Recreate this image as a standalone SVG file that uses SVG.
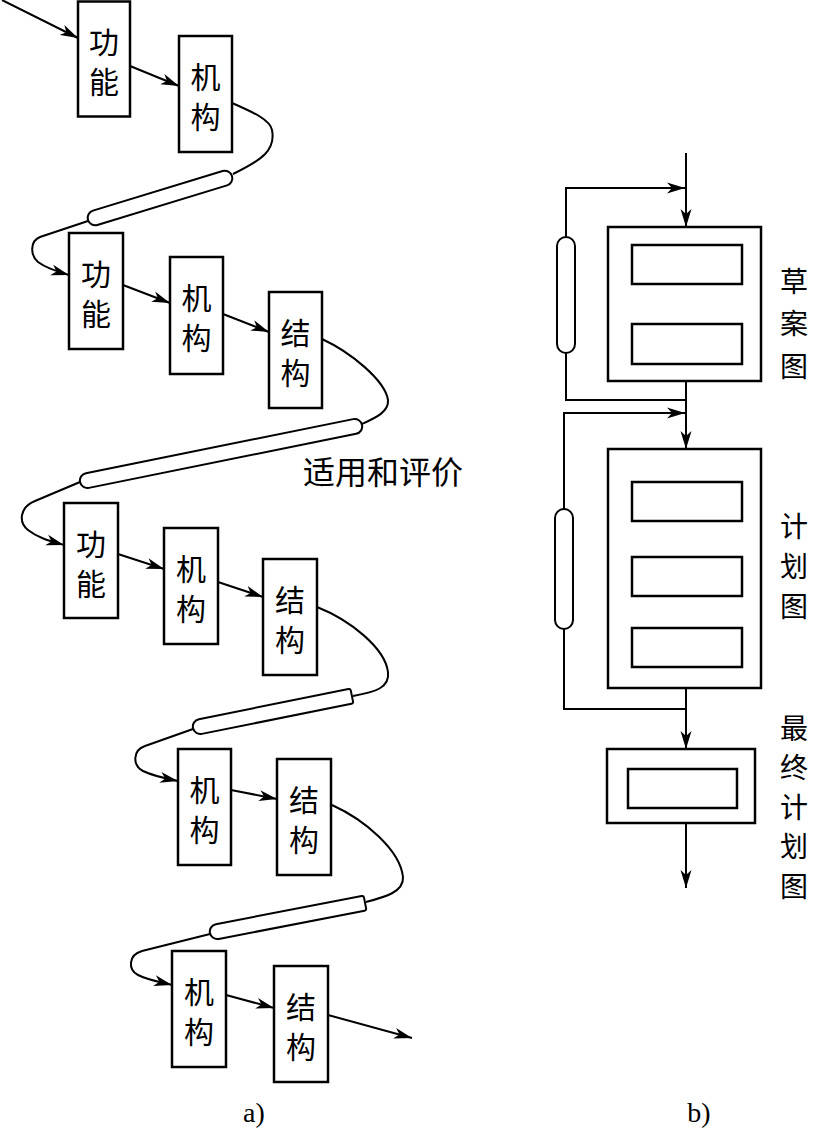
<svg xmlns="http://www.w3.org/2000/svg" width="815" height="1130" viewBox="0 0 815 1130">
<style>
.bx{fill:#fff;stroke:#000;stroke-width:2.5}
.ln{fill:none;stroke:#000;stroke-width:2}
.ar{fill:none;stroke:#000;stroke-width:2;marker-end:url(#ah)}
.tube{fill:#fff;stroke:#000;stroke-width:2}
.t{font-family:"Noto Sans CJK SC","Noto Sans CJK JP",sans-serif;font-size:30px;fill:#000;text-anchor:middle}
.v{font-family:"Noto Sans CJK SC","Noto Sans CJK JP",sans-serif;font-size:30px;fill:#000;writing-mode:vertical-rl;text-orientation:upright;letter-spacing:10px}
.side{font-size:28px}
.lab{font-family:"Liberation Serif",serif;font-size:28px;fill:#000;text-anchor:middle}
</style>
<defs>
<marker id="ah" markerUnits="userSpaceOnUse" markerWidth="20" markerHeight="12" refX="18" refY="6" orient="auto">
<path d="M0,0.5 L18,6 L0,11.5 L5,6 z" fill="#000"/>
</marker>
</defs>
<g id="connectors">
<line class="ar" x1="2" y1="0" x2="78" y2="38"/>
<line class="ar" x1="130" y1="66" x2="179" y2="86"/>
<path class="ln" d="M232,103 C255,113 270,120 272,130 C276,150 262,160 233,174"/>
<path class="ar" d="M88,221 L40,237 C30,241 30,255 38,262 C46,268 55,271 69,275"/>
<line class="ar" x1="123" y1="285" x2="170" y2="303"/>
<line class="ar" x1="223" y1="314" x2="269" y2="332"/>
<path class="ln" d="M322,339 C350,352 385,380 388,400 C389,412 375,418 362,424"/>
<path class="ar" d="M80,482 L35,501 C20,507 18,522 28,530 C38,538 50,541 64,545"/>
<line class="ar" x1="118" y1="554" x2="164" y2="569"/>
<line class="ar" x1="218" y1="582" x2="263" y2="597"/>
<path class="ln" d="M317,607 C350,620 385,648 388,672 C390,688 375,692 353,696"/>
<path class="ar" d="M193,729 L145,746 C133,750 132,765 143,771 C153,776 163,778 178,781"/>
<line class="ar" x1="231" y1="790" x2="277" y2="799"/>
<path class="ln" d="M332,805 C365,820 400,850 403,877 C404,892 385,897 366,902"/>
<path class="ar" d="M210,934 L142,951 C128,955 128,970 138,975 C148,980 160,982 172,985"/>
<line class="ar" x1="226" y1="995" x2="274" y2="1008"/>
<line class="ar" x1="328" y1="1015" x2="412" y2="1038"/>
<line class="ar" x1="686" y1="153" x2="686" y2="227"/>
<polyline class="ar" points="566,238 566,188 685,188"/>
<polyline class="ln" points="566,353 566,400 686,400"/>
<line class="ar" x1="686" y1="284" x2="686" y2="324"/>
<line class="ar" x1="686" y1="381" x2="686" y2="449"/>
<polyline class="ar" points="564,509 564,413 685,413"/>
<polyline class="ln" points="564,629 564,709 686,709"/>
<line class="ar" x1="686" y1="521" x2="686" y2="557"/>
<line class="ar" x1="686" y1="596" x2="686" y2="628"/>
<line class="ar" x1="686" y1="688" x2="686" y2="749"/>
<line class="ar" x1="686" y1="823" x2="686" y2="888"/>
</g>
<g id="tubes">
<rect class="tube" x="-75.3" y="-7.5" width="150.6" height="15" rx="7.5" transform="translate(160,198) rotate(-17)"/>
<rect class="tube" x="-143.8" y="-7.5" width="287.7" height="15" rx="7.5" transform="translate(221,453.5) rotate(-11.43)"/>
<path class="tube" d="M-73.6,-7.5 H79 Q81,-7.5 81,-5.5 V5.5 Q81,7.5 79,7.5 H-73.6 A7.5,7.5 0 0 1 -73.6,-7.5 Z" transform="translate(272.5,712) rotate(-11.38)"/>
<path class="tube" d="M-71.5,-7.5 H77 Q79,-7.5 79,-5.5 V5.5 Q79,7.5 77,7.5 H-71.5 A7.5,7.5 0 0 1 -71.5,-7.5 Z" transform="translate(287.5,918) rotate(-10.95)"/>
<rect class="tube" x="557" y="237" width="18" height="116" rx="9"/>
<rect class="tube" x="555" y="509" width="18" height="120" rx="9"/>
</g>
<g id="n1"><rect class="bx" x="78" y="1.5" width="52" height="115"/><text class="v" x="104" y="27">功能</text></g>
<g id="n2"><rect class="bx" x="179" y="36" width="53" height="116"/><text class="v" x="205.5" y="62">机构</text></g>
<g id="n3"><rect class="bx" x="69" y="233" width="54" height="116"/><text class="v" x="96" y="259">功能</text></g>
<g id="n4"><rect class="bx" x="170" y="257" width="53" height="117"/><text class="v" x="196.5" y="283">机构</text></g>
<g id="n5"><rect class="bx" x="269" y="292" width="53" height="116"/><text class="v" x="295.5" y="318">结构</text></g>
<g id="n6"><rect class="bx" x="64" y="503" width="54" height="115"/><text class="v" x="91" y="529">功能</text></g>
<g id="n7"><rect class="bx" x="164" y="528" width="54" height="116"/><text class="v" x="191" y="554">机构</text></g>
<g id="n8"><rect class="bx" x="263" y="559" width="54" height="116"/><text class="v" x="290" y="585">结构</text></g>
<g id="n9"><rect class="bx" x="178" y="749" width="53" height="116"/><text class="v" x="204.5" y="775">机构</text></g>
<g id="n10"><rect class="bx" x="277" y="759" width="54" height="116"/><text class="v" x="304" y="785">结构</text></g>
<g id="n11"><rect class="bx" x="172" y="951" width="54" height="116"/><text class="v" x="199" y="977">机构</text></g>
<g id="n12"><rect class="bx" x="274" y="966" width="54" height="116"/><text class="v" x="301" y="992">结构</text></g>
<g id="eval-label"><text class="t" x="383" y="484" style="font-size:32px">适用和评价</text></g>
<g id="sketch">
<rect class="bx" x="608" y="227" width="153" height="154"/>
<rect class="bx" x="632" y="245" width="110" height="39"/>
<rect class="bx" x="632" y="324" width="110" height="40"/>
<text class="v side" x="794" y="267" style="letter-spacing:14.5px">草案图</text>
</g>
<g id="plan">
<rect class="bx" x="608" y="449" width="153" height="239"/>
<rect class="bx" x="632" y="482" width="110" height="39"/>
<rect class="bx" x="632" y="557" width="110" height="39"/>
<rect class="bx" x="632" y="628" width="110" height="39"/>
<text class="v side" x="794" y="512" style="letter-spacing:12px">计划图</text>
</g>
<g id="final">
<rect class="bx" x="607" y="749" width="148" height="74"/>
<rect class="bx" x="628" y="769" width="109" height="39"/>
<text class="v side" x="794" y="714" style="letter-spacing:11.5px">最终计划图</text>
</g>
<g id="captions">
<text class="lab" x="254" y="1122">a)</text>
<text class="lab" x="699" y="1122">b)</text>
</g>
</svg>
